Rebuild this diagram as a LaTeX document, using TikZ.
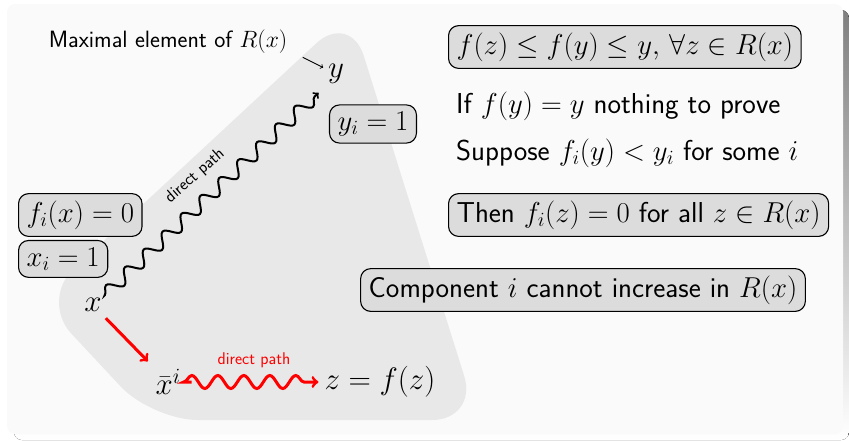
\RequirePackage{fix-cm}
\documentclass[tikz,border=0pt]{standalone}
\usetikzlibrary{decorations.pathmorphing,positioning}

\definecolor{panel}{HTML}{FAFAFA}
\definecolor{region}{HTML}{E8E8E8}
\definecolor{boxfill}{HTML}{DCDCDC}
\definecolor{shade}{HTML}{8C8C8C}
\newcommand\mainsize{\fontsize{28.8}{34}\selectfont}
\newcommand\ptsize{\fontsize{31}{36}\selectfont}
\newcommand\labsize{\fontsize{23.6}{28}\selectfont}
\newcommand\tagsize{\fontsize{17}{20}\selectfont}

\tikzset{
  fact/.style={draw, fill=boxfill, rounded corners=10pt, line width=1.1pt,
    inner xsep=8pt, inner ysep=7pt, font=\mainsize\sffamily},
  plain/.style={font=\mainsize\sffamily, inner xsep=8pt},
  elem/.style={font=\ptsize, inner sep=2pt},
  tag/.style={font=\tagsize\sffamily},
  wave/.style={decorate, decoration={snake, amplitude=6.5pt,
    segment length=26pt, pre length=1pt, post length=6pt}}
}

\begin{document}
\begin{tikzpicture}[x=1pt, y=-1pt]
    \useasboundingbox (0,0) rectangle (849,440);
    % 枠と影
    \fill[shade, rounded corners=8pt] (14,10) rectangle (849,440);
    \fill[panel, rounded corners=8pt] (7,4) rectangle (843,434);

    % 到達可能集合 R(x)
    \fill[region, rounded corners=46pt]
        (152,420) -- (40,300) -- (350,12) -- (478,420) -- cycle;

    % 点
    \node[elem] (y) at (336,74) {$y$};
    \node[elem] (x) at (93,305) {$x$};
    \node[elem] (xb) at (168,382) {$\bar{x}^i$};
    \node[elem] (zf) at (380,382) {$z = f(z)$};

    % 成分の値
    \node[fact] (yi) at (373,124) {$y_i = 1$};
    \node[fact, anchor=west] (fx) at (18,215) {$f_i(x) = 0$};
    \node[fact, anchor=north west] (xi) at ([yshift=-3pt]fx.south west) {$x_i = 1$};

    % 説明
    \node[font=\labsize\sffamily] (maxlab) at (168,42) {Maximal element of $R(x)$};
    \node[fact, anchor=west] (bound) at (448,47) {$f(z) \le f(y) \le y,\, \forall z \in R(x)$};
    \node[plain, anchor=west] (ifeq) at (448,106) {If $f(y) = y$ nothing to prove};
    \node[plain, anchor=west] (supp) at (448,153) {Suppose $f_i(y) < y_i$ for some $i$};
    \node[fact, anchor=west] (then) at (448,215) {Then $f_i(z) = 0$ for all $z \in R(x)$};
    \node[fact] (comp) at (583,290) {Component $i$ cannot increase in $R(x)$};

    % 経路
    \draw[->, line width=0.9pt, shorten >=3pt] ([xshift=12pt]maxlab.south east) -- (y);
    \draw[->, wave, line width=2pt, shorten <=2pt, shorten >=10pt] (x.north east) -- (y.south west);
    \node[tag, rotate=41] (dp) at (195,176) {direct path};
    \draw[->, red, line width=3pt, shorten <=6pt, shorten >=8pt] (x) -- (xb);
    \draw[->, red, line width=3pt, wave, shorten <=9pt, shorten >=4pt]
        (xb.east) -- (xb.east -| zf.west);
    \node[tag, red] (dpr) at (254,360) {direct path};
\end{tikzpicture}
\end{document}
